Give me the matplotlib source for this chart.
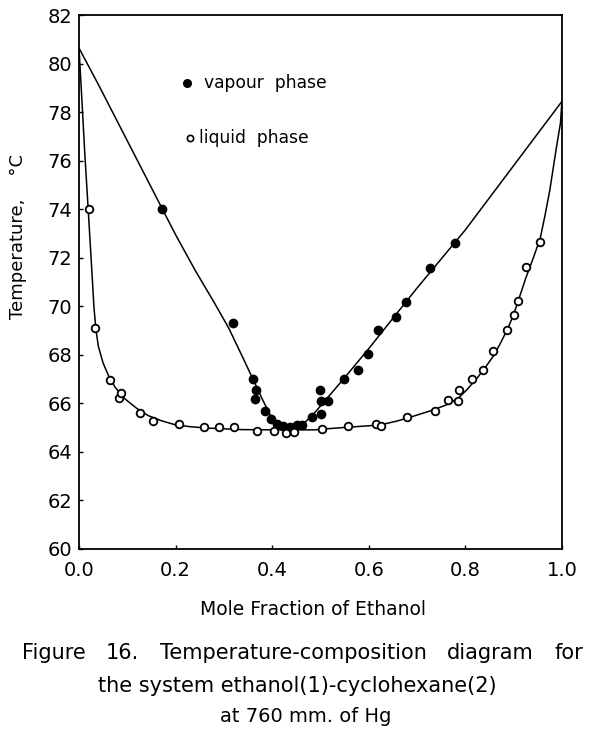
import matplotlib
matplotlib.use("Agg")
import matplotlib.pyplot as plt
from matplotlib.ticker import FormatStrFormatter

plt.rcParams["font.family"] = ["DejaVu Sans"]

# --- data ---
vap_x = [0.172, 0.318, 0.360, 0.366, 0.364, 0.385, 0.397, 0.409, 0.423, 0.437, 0.451,
         0.461, 0.482, 0.499, 0.501, 0.516, 0.501, 0.549, 0.578, 0.598, 0.620, 0.656,
         0.678, 0.727, 0.778]
vap_T = [74.0, 69.3, 67.0, 66.56, 66.18, 65.67, 65.33, 65.15, 65.04, 65.0, 65.1,
         65.1, 65.42, 66.56, 66.1, 66.1, 65.56, 67.0, 67.38, 68.04, 69.02, 69.54,
         70.18, 71.56, 72.62]

liq_x = [0.021, 0.033, 0.064, 0.082, 0.088, 0.126, 0.153, 0.207, 0.259, 0.290, 0.320,
         0.368, 0.404, 0.429, 0.445, 0.504, 0.558, 0.615, 0.625, 0.680, 0.738, 0.765,
         0.785, 0.787, 0.813, 0.837, 0.857, 0.887, 0.901, 0.910, 0.925, 0.954]
liq_T = [74.0, 69.09, 66.95, 66.2, 66.42, 65.6, 65.28, 65.15, 65.01, 65.0, 65.0,
         64.87, 64.87, 64.78, 64.8, 64.94, 65.04, 65.14, 65.05, 65.42, 65.67, 66.13,
         66.07, 66.56, 67.0, 67.38, 68.17, 69.03, 69.63, 70.22, 71.62, 72.67]

# smoothed curves as drawn in the reference
vap_curve_x = [0.0, 0.04, 0.08, 0.12, 0.16, 0.20, 0.24, 0.28, 0.31, 0.34, 0.36,
               0.38, 0.395, 0.41, 0.425, 0.44, 0.455, 0.47, 0.49, 0.52, 0.55,
               0.60, 0.65, 0.70, 0.75, 0.80, 0.90, 1.0]
vap_curve_T = [80.65, 79.15, 77.6, 76.05, 74.5, 72.95, 71.5, 70.15, 69.1, 67.85, 67.0,
               66.15, 65.55, 65.17, 65.02, 64.98, 65.05, 65.25, 65.65, 66.35, 67.05,
               68.25, 69.5, 70.75, 71.95, 73.15, 75.8, 78.45]

liq_curve_x = [0.0, 0.006, 0.012, 0.019, 0.026, 0.031, 0.035, 0.040, 0.050, 0.061,
               0.075, 0.095, 0.120, 0.143, 0.170, 0.199, 0.230, 0.268, 0.337, 0.406,
               0.489, 0.530, 0.580, 0.623, 0.660, 0.692, 0.730, 0.761, 0.785, 0.803,
               0.825, 0.844, 0.860, 0.872, 0.886, 0.899, 0.910, 0.925, 0.940, 0.955,
               0.965, 0.975, 0.989, 0.997, 1.0]
liq_curve_T = [80.65, 78.5, 76.3, 74.0, 71.66, 69.95, 69.05, 68.35, 67.65, 67.14,
               66.65, 66.18, 65.78, 65.49, 65.28, 65.11, 65.03, 64.97, 64.91, 64.90,
               64.9, 64.97, 65.04, 65.1, 65.27, 65.46, 65.7, 65.93, 66.2, 66.55,
               67.05, 67.55, 68.0, 68.45, 69.0, 69.6, 70.25, 71.15, 71.95, 72.8,
               73.75, 74.8, 76.6, 77.56, 78.45]

x_ticks = [0.0, 0.2, 0.4, 0.6, 0.8, 1.0]
y_ticks = list(range(60, 84, 2))

fig = plt.figure(figsize=(5.94, 7.31), dpi=100)
ax = fig.add_axes([0.133, 0.2495, 0.813, 0.7295])

ax.plot(vap_curve_x, vap_curve_T, color="black", lw=1.1, solid_joinstyle="round")
ax.plot(liq_curve_x, liq_curve_T, color="black", lw=1.1, solid_joinstyle="round")
ax.plot(vap_x, vap_T, "o", color="black", ms=6, mec="black", zorder=3)
ax.plot(liq_x, liq_T, "o", mfc="white", mec="black", ms=5.5, mew=1.3, zorder=3)

ax.set_xlim(0.0, 1.0)
ax.set_ylim(60, 82)
ax.set_xticks(x_ticks)
ax.set_yticks(y_ticks)
ax.xaxis.set_major_formatter(FormatStrFormatter("%.1f"))
ax.tick_params(direction="in", length=3, width=1)
ax.tick_params(axis="y", labelsize=14, pad=5)
ax.tick_params(axis="x", labelsize=14, pad=9)
for s in ax.spines.values():
    s.set_linewidth(1.3)

# legend drawn as in the reference
ax.plot([0.223], [79.2], "o", color="black", ms=5.5)
ax.text(0.258, 79.2, "vapour  phase", fontsize=12.3, va="center", ha="left")
ax.plot([0.230], [76.92], "o", mfc="white", mec="black", ms=4.5, mew=1.2)
ax.text(0.248, 76.92, "liquid  phase", fontsize=12.3, va="center", ha="left")

ax.set_xlabel("Mole Fraction of Ethanol", fontsize=13.5)
ax.xaxis.label.set_verticalalignment("center")
ax.xaxis.set_label_coords(0.485, (549 - 610) / 533)
fig.text(0.030, 0.677, "Temperature,    \u00b0C", rotation=90, fontsize=13,
         ha="center", va="center")

# caption, first line spread across the width as in the reference
cap_words = ["Figure", "16.", "Temperature-composition", "diagram", "for"]
cap_fs = 15
cap_left, cap_right = 22 / 594, 583 / 594
renderer = fig.canvas.get_renderer()
tmp = [fig.text(0, 0, w, fontsize=cap_fs) for w in cap_words]
widths = [t.get_window_extent(renderer).width / fig.bbox.width for t in tmp]
for t in tmp:
    t.remove()
gap = (cap_right - cap_left - sum(widths)) / (len(cap_words) - 1)
xpos = cap_left
for w, wd in zip(cap_words, widths):
    fig.text(xpos, 1 - 653 / 731, w, fontsize=cap_fs, ha="left", va="center")
    xpos += wd + gap
fig.text(0.5, 1 - 686 / 731, "the system ethanol(1)-cyclohexane(2)", fontsize=cap_fs,
         ha="center", va="center")
fig.text(0.515, 1 - 717 / 731, "at 760 mm. of Hg", fontsize=14, ha="center", va="center")

fig.savefig("out.png", dpi=100)
